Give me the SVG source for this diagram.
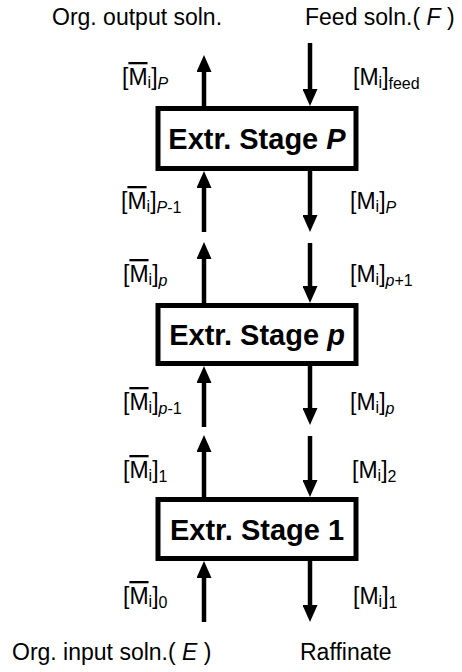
<svg xmlns="http://www.w3.org/2000/svg" width="462" height="672" viewBox="0 0 462 672">
  <style>
    text { font-family: "Liberation Sans", Arial, sans-serif; fill: #000; }
    .cap { font-size: 23px; }
    .lbl { font-size: 23px; }
    .sub { font-size: 16px; }
    .it { font-style: italic; }
    .bar { text-decoration: overline; }
    .stage rect { fill: #fff; stroke: #000; stroke-width: 5; }
    .stage text { font-size: 29px; font-weight: bold; text-anchor: middle; }
    .flow line { stroke: #000; stroke-width: 4.5; marker-end: url(#head); }
  </style>
  <defs>
    <marker id="head" markerUnits="userSpaceOnUse" markerWidth="17" markerHeight="15" viewBox="0 0 17 15" refX="9" refY="7.5" orient="auto">
      <path d="M0,0 L17,7.5 L0,15 Z" fill="#000"/>
    </marker>
  </defs>

  <!-- inlet / outlet captions -->
  <text class="cap" x="52" y="25">Org. output soln.</text>
  <text class="cap" x="305" y="25">Feed soln.( <tspan class="it">F</tspan> )</text>
  <text class="cap" x="12" y="660">Org. input soln.( <tspan class="it">E</tspan> )</text>
  <text class="cap" x="300" y="660">Raffinate</text>

  <!-- stream connectors: organic phase rises on the left, aqueous falls on the right -->
  <g id="connectors" class="flow">
    <line x1="204" y1="106" x2="204" y2="63"/>
    <line x1="204" y1="232" x2="204" y2="179"/>
    <line x1="204" y1="303" x2="204" y2="250"/>
    <line x1="204" y1="427" x2="204" y2="374"/>
    <line x1="204" y1="497" x2="204" y2="443"/>
    <line x1="204" y1="622" x2="204" y2="569"/>

    <line x1="310" y1="43" x2="310" y2="98"/>
    <line x1="310" y1="171" x2="310" y2="224"/>
    <line x1="310" y1="243" x2="310" y2="295"/>
    <line x1="310" y1="366" x2="310" y2="417"/>
    <line x1="310" y1="436" x2="310" y2="489"/>
    <line x1="310" y1="561" x2="310" y2="614"/>
  </g>

  <!-- extraction stages -->
  <g id="stage-P" class="stage">
    <rect x="158" y="108.5" width="198" height="60"/>
    <text x="257" y="149">Extr. Stage <tspan class="it">P</tspan></text>
  </g>
  <g id="stage-p" class="stage">
    <rect x="158" y="305.5" width="198" height="58"/>
    <text x="257" y="345">Extr. Stage <tspan class="it">p</tspan></text>
  </g>
  <g id="stage-1" class="stage">
    <rect x="158" y="499.5" width="198" height="59"/>
    <text x="257" y="540">Extr. Stage 1</text>
  </g>

  <!-- concentration labels, organic side -->
  <g id="labels-org" class="lbl">
    <text x="122" y="85">[<tspan class="bar">M</tspan><tspan class="sub" dy="3">i</tspan><tspan dy="-3">]</tspan><tspan class="sub it" dy="4">P</tspan></text>
    <text x="121" y="209">[<tspan class="bar">M</tspan><tspan class="sub" dy="3">i</tspan><tspan dy="-3">]</tspan><tspan class="sub" dy="4"><tspan class="it">P</tspan>-1</tspan></text>
    <text x="123" y="282">[<tspan class="bar">M</tspan><tspan class="sub" dy="3">i</tspan><tspan dy="-3">]</tspan><tspan class="sub it" dy="4">p</tspan></text>
    <text x="123" y="410">[<tspan class="bar">M</tspan><tspan class="sub" dy="3">i</tspan><tspan dy="-3">]</tspan><tspan class="sub" dy="4"><tspan class="it">p</tspan>-1</tspan></text>
    <text x="123" y="478">[<tspan class="bar">M</tspan><tspan class="sub" dy="3">i</tspan><tspan dy="-3">]</tspan><tspan class="sub" dy="4">1</tspan></text>
    <text x="123" y="604">[<tspan class="bar">M</tspan><tspan class="sub" dy="3">i</tspan><tspan dy="-3">]</tspan><tspan class="sub" dy="4">0</tspan></text>
  </g>

  <!-- concentration labels, aqueous side -->
  <g id="labels-aq" class="lbl">
    <text x="353" y="85">[M<tspan class="sub" dy="3">i</tspan><tspan dy="-3">]</tspan><tspan class="sub" dy="4">feed</tspan></text>
    <text x="350" y="209">[M<tspan class="sub" dy="3">i</tspan><tspan dy="-3">]</tspan><tspan class="sub it" dy="4">P</tspan></text>
    <text x="350" y="282">[M<tspan class="sub" dy="3">i</tspan><tspan dy="-3">]</tspan><tspan class="sub" dy="4"><tspan class="it">p</tspan>+1</tspan></text>
    <text x="350" y="410">[M<tspan class="sub" dy="3">i</tspan><tspan dy="-3">]</tspan><tspan class="sub it" dy="4">p</tspan></text>
    <text x="352" y="478">[M<tspan class="sub" dy="3">i</tspan><tspan dy="-3">]</tspan><tspan class="sub" dy="4">2</tspan></text>
    <text x="353" y="604">[M<tspan class="sub" dy="3">i</tspan><tspan dy="-3">]</tspan><tspan class="sub" dy="4">1</tspan></text>
  </g>
</svg>
